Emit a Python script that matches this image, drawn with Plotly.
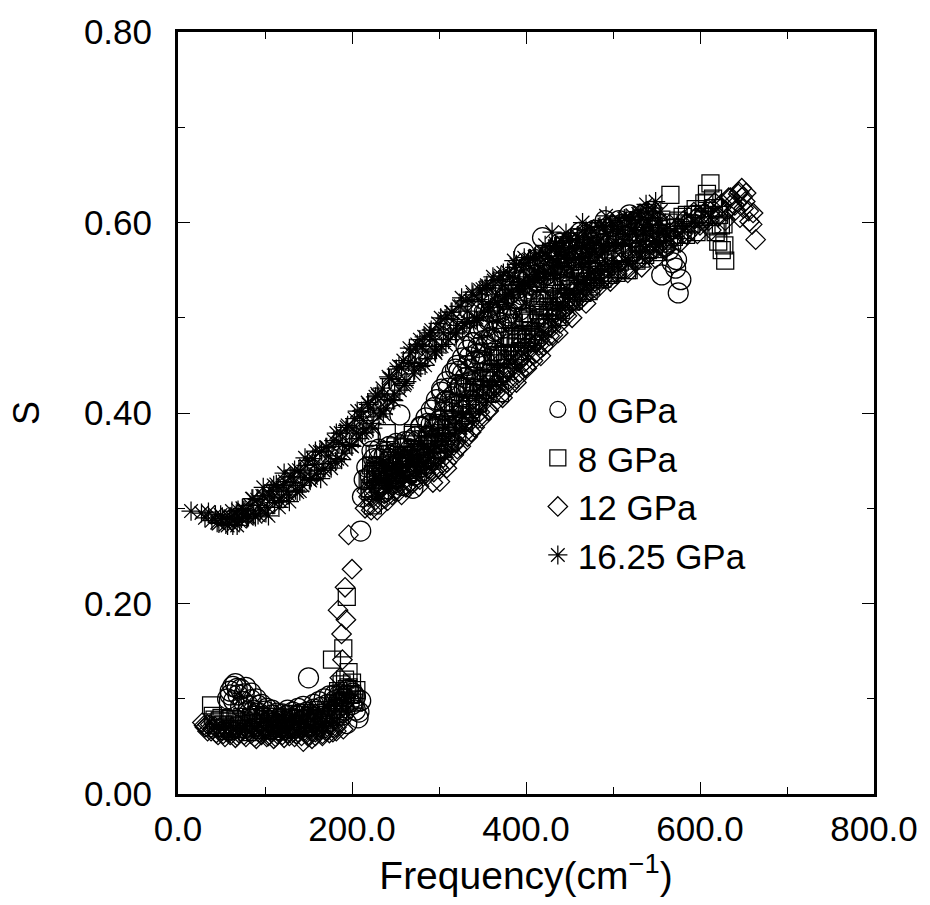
import plotly.graph_objects as go

# ---------------- data ----------------
# Each series is given as interleaved runs of readings (a, b, c).
gpa0_xa = [57, 60, 63, 66, 69, 72, 75, 78, 81, 84, 87, 90, 93, 96, 99, 102, 105, 108, 111, 114,
           117, 120, 123, 126, 129, 132, 135, 138, 141, 144, 147, 150, 153, 156, 159, 162, 165, 168,
           171, 174, 177, 180, 183, 186, 189, 192, 194, 197, 201, 204, 207, 210,
           210, 212, 214, 217, 221,
           225, 228, 231, 234, 237, 240, 243, 246, 249, 252, 255, 258, 261, 264, 267, 270, 273, 276,
           279, 282, 285, 288, 291, 294, 297, 300, 303, 306, 309, 312, 315, 318, 321, 324, 327, 330,
           333, 336, 339, 342, 345, 348, 351, 354, 357, 360, 363, 366, 369, 372, 375, 378, 381, 384,
           387, 390, 393, 396, 398, 402, 406, 410, 414, 419, 422, 426, 430, 434, 438, 442, 446, 450,
           455, 460, 465, 470, 475, 480, 485, 490, 495, 500, 505, 510, 515, 520, 525, 530, 535, 540,
           545, 550, 556, 560, 564, 568, 572, 573, 575, 578]
gpa0_ya = [0.100, 0.108, 0.113, 0.116, 0.104, 0.110, 0.097, 0.112, 0.093, 0.106, 0.088, 0.100, 0.085,
           0.094, 0.080, 0.090, 0.077, 0.088, 0.075, 0.085, 0.073, 0.084, 0.076, 0.088, 0.074, 0.086,
           0.078, 0.090, 0.076, 0.092, 0.080, 0.122, 0.082, 0.094, 0.079, 0.097, 0.084, 0.100, 0.081,
           0.103, 0.086, 0.098, 0.090, 0.105, 0.083, 0.100, 0.074, 0.096, 0.106, 0.088, 0.080, 0.098,
           0.276, 0.312, 0.330, 0.343, 0.375,
           0.352, 0.335, 0.362, 0.340, 0.355, 0.330, 0.365, 0.342, 0.358, 0.336, 0.398, 0.350, 0.370,
           0.345, 0.362, 0.321, 0.375, 0.355, 0.385, 0.366, 0.395, 0.374, 0.403, 0.384, 0.414, 0.392,
           0.425, 0.403, 0.433, 0.412, 0.442, 0.420, 0.450, 0.428, 0.458, 0.437, 0.466, 0.446, 0.474,
           0.455, 0.482, 0.463, 0.490, 0.471, 0.497, 0.480, 0.505, 0.487, 0.512, 0.495, 0.519, 0.502,
           0.525, 0.510, 0.532, 0.517, 0.538, 0.524, 0.568, 0.544, 0.530, 0.550, 0.537, 0.584, 0.545,
           0.565, 0.550, 0.570, 0.555, 0.575, 0.560, 0.579, 0.565, 0.583, 0.569, 0.587, 0.573, 0.590,
           0.577, 0.593, 0.580, 0.596, 0.583, 0.598, 0.586, 0.601, 0.589, 0.603, 0.592, 0.605, 0.595,
           0.600, 0.545, 0.575, 0.571, 0.558, 0.552, 0.561, 0.526, 0.540]
gpa0_xb = [60, 64, 68, 72, 76, 80, 84, 88, 92, 96, 100, 104, 108, 112, 116, 120, 124, 128, 132, 136,
           140, 144, 148, 152, 156, 160, 164, 168, 172, 176, 180, 184, 188, 192, 196, 200, 204, 208,
           223, 227, 231, 235, 239, 243, 247, 251, 255, 259, 263, 267, 271, 275, 279, 283, 287, 291,
           295, 299, 303, 307, 311, 315, 319, 323, 327, 331, 335, 339, 343, 347, 351, 355, 359, 363,
           367, 371, 375, 379, 383, 387, 391, 395, 399, 403, 407, 411, 415, 419, 423, 427, 431, 435,
           439, 443, 447, 451, 455, 459, 463, 467, 471, 475, 479, 483, 487, 491, 495, 499, 503, 507,
           511, 515, 519, 523, 527, 531, 535, 539, 543, 547, 551]
gpa0_yb = [0.104, 0.098, 0.111, 0.092, 0.105, 0.087, 0.099, 0.082, 0.093, 0.076, 0.087, 0.072, 0.083,
           0.070, 0.079, 0.071, 0.082, 0.069, 0.080, 0.072, 0.084, 0.073, 0.086, 0.075, 0.089, 0.077,
           0.091, 0.080, 0.094, 0.082, 0.104, 0.085, 0.097, 0.088, 0.110, 0.094, 0.102, 0.086,
           0.360, 0.344, 0.352, 0.336, 0.359, 0.352, 0.344, 0.368, 0.352, 0.363, 0.348, 0.371, 0.357,
           0.371, 0.386, 0.366, 0.389, 0.388, 0.406, 0.388, 0.422, 0.412, 0.426, 0.417, 0.446, 0.444,
           0.441, 0.470, 0.459, 0.474, 0.462, 0.488, 0.476, 0.491, 0.506, 0.486, 0.508, 0.506, 0.521,
           0.502, 0.533, 0.520, 0.531, 0.519, 0.545, 0.541, 0.535, 0.561, 0.547, 0.559, 0.545, 0.568,
           0.554, 0.566, 0.578, 0.556, 0.575, 0.570, 0.583, 0.561, 0.590, 0.574, 0.583, 0.569, 0.592,
           0.586, 0.578, 0.602, 0.586, 0.596, 0.580, 0.602, 0.586, 0.597, 0.608, 0.584, 0.602, 0.596,
           0.608, 0.585, 0.612, 0.594, 0.599]
gpa0_xc = [221, 225, 229, 233, 237, 241, 245, 249, 253, 257, 261, 265, 269, 273, 277, 281, 285, 289,
           293, 297, 301, 305, 309, 313, 317, 321, 325, 329, 333, 337, 341, 345, 349, 353, 357, 361,
           365, 369, 373, 377, 381, 385, 389, 393, 397, 401, 405, 409, 413, 417, 421, 425, 429, 433,
           437, 441, 445, 449, 453, 457, 461, 465, 469, 473, 477, 481]
gpa0_yc = [0.334, 0.319, 0.343, 0.327, 0.317, 0.341, 0.334, 0.327, 0.346, 0.324, 0.342, 0.354, 0.338,
           0.335, 0.358, 0.357, 0.346, 0.377, 0.372, 0.385, 0.392, 0.383, 0.413, 0.404, 0.400, 0.430,
           0.428, 0.426, 0.450, 0.433, 0.454, 0.469, 0.455, 0.454, 0.478, 0.477, 0.465, 0.495, 0.489,
           0.499, 0.505, 0.493, 0.520, 0.508, 0.501, 0.528, 0.523, 0.518, 0.539, 0.519, 0.538, 0.551,
           0.534, 0.531, 0.552, 0.548, 0.534, 0.561, 0.552, 0.560, 0.563, 0.548, 0.573, 0.559, 0.549,
           0.574]

gpa8_xa = [38, 42, 46, 50, 54, 58, 62, 66, 70, 74, 78, 82, 86, 90, 94, 98, 102, 106, 110, 114, 118,
           122, 126, 130, 134, 138, 142, 146, 150, 154, 158, 162, 166, 170, 174, 178, 181, 184, 186,
           188, 190, 192, 194, 196, 198, 200, 202, 205,
           177, 190, 194,
           218, 221, 224, 227, 230, 233, 236, 240, 243, 246, 249, 252, 256, 260, 264, 268, 270, 273,
           277, 281, 285, 289, 293, 297, 301, 305, 309, 313, 317, 321, 325, 329, 333, 337, 341, 345,
           349, 353, 357, 361, 365, 370, 373, 377, 381, 385, 389, 393, 397, 401, 405, 410, 415, 420,
           425, 430, 435, 440, 446, 450, 455, 460, 465, 470, 475, 480, 485, 490, 495, 500, 505, 510,
           518, 522, 527, 532, 537, 542, 547, 552, 557, 562, 566, 570, 575, 580, 585, 590, 595, 600,
           605, 608, 612, 615, 618, 621, 625, 629, 622, 627]
gpa8_ya = [0.093, 0.078, 0.072, 0.080, 0.070, 0.076, 0.068, 0.078, 0.071, 0.081, 0.069, 0.077, 0.072,
           0.083, 0.070, 0.079, 0.067, 0.076, 0.071, 0.081, 0.069, 0.078, 0.073, 0.084, 0.070, 0.079,
           0.074, 0.085, 0.071, 0.080, 0.075, 0.088, 0.073, 0.083, 0.078, 0.092, 0.084, 0.108, 0.096,
           0.115, 0.101, 0.120, 0.110, 0.128, 0.104, 0.117, 0.096, 0.109,
           0.141, 0.153, 0.207,
           0.330, 0.318, 0.303, 0.338, 0.325, 0.345, 0.330, 0.379, 0.335, 0.350, 0.332, 0.348, 0.340,
           0.355, 0.338, 0.352, 0.379, 0.342, 0.358, 0.346, 0.362, 0.350, 0.368, 0.356, 0.375, 0.362,
           0.384, 0.370, 0.394, 0.380, 0.404, 0.390, 0.414, 0.400, 0.424, 0.410, 0.434, 0.420, 0.443,
           0.430, 0.452, 0.421, 0.460, 0.447, 0.470, 0.456, 0.478, 0.465, 0.487, 0.474, 0.495, 0.482,
           0.503, 0.490, 0.512, 0.499, 0.520, 0.508, 0.522, 0.530, 0.518, 0.538, 0.526, 0.545, 0.533,
           0.551, 0.540, 0.557, 0.545, 0.562, 0.551, 0.567, 0.550, 0.572, 0.560, 0.578, 0.566, 0.583,
           0.572, 0.588, 0.578, 0.595, 0.629, 0.585, 0.602, 0.592, 0.608, 0.598, 0.614, 0.604, 0.620,
           0.630, 0.641, 0.625, 0.590, 0.580, 0.571, 0.560, 0.608, 0.598]
gpa8_xb = [40, 44, 48, 52, 56, 60, 64, 68, 72, 76, 80, 84, 88, 92, 96, 100, 104, 108, 112, 116, 120,
           124, 128, 132, 136, 140, 144, 148, 152, 156, 160, 164, 168, 172, 176, 180, 184, 188, 192,
           196, 200, 204,
           220, 224, 228, 232, 236, 240, 244, 248, 252, 256, 260, 264, 268, 272, 276, 280, 284, 288,
           292, 296, 300, 304, 308, 312, 316, 320, 324, 328, 332, 336, 340, 344, 348, 352, 356, 360,
           364, 368, 372, 376, 380, 384, 388, 392, 396, 400, 404, 408, 412, 416, 420, 424, 428, 432,
           436, 440, 444, 448, 452, 456, 460, 464, 468, 472, 476, 480, 484, 488, 492, 496, 500, 504,
           508, 512, 516, 520, 524, 528, 532, 536, 540, 544, 548, 552, 556, 560, 564, 568, 572, 576,
           580, 584, 588, 592, 596, 600, 604, 608, 612, 616, 620, 624, 628]
gpa8_yb = [0.082, 0.069, 0.077, 0.073, 0.066, 0.079, 0.072, 0.068, 0.076, 0.074, 0.065, 0.080, 0.070,
           0.075, 0.067, 0.081, 0.073, 0.069, 0.078, 0.066, 0.074, 0.080, 0.068, 0.076, 0.072, 0.083,
           0.069, 0.078, 0.082, 0.070, 0.079, 0.085, 0.075, 0.088, 0.081, 0.095, 0.089, 0.104, 0.097,
           0.112, 0.105, 0.099,
           0.321, 0.336, 0.330, 0.319, 0.339, 0.333, 0.350, 0.331, 0.344, 0.337, 0.356, 0.336, 0.348,
           0.356, 0.338, 0.356, 0.353, 0.367, 0.350, 0.367, 0.361, 0.379, 0.376, 0.368, 0.391, 0.388,
           0.408, 0.392, 0.408, 0.404, 0.426, 0.410, 0.424, 0.436, 0.420, 0.442, 0.441, 0.457, 0.442,
           0.461, 0.456, 0.473, 0.469, 0.460, 0.482, 0.478, 0.497, 0.480, 0.495, 0.490, 0.511, 0.494,
           0.507, 0.518, 0.501, 0.522, 0.520, 0.534, 0.517, 0.534, 0.528, 0.544, 0.538, 0.528, 0.548,
           0.543, 0.560, 0.541, 0.554, 0.547, 0.566, 0.547, 0.559, 0.568, 0.550, 0.569, 0.566, 0.579,
           0.562, 0.578, 0.571, 0.586, 0.580, 0.569, 0.589, 0.583, 0.600, 0.581, 0.594, 0.587, 0.606,
           0.587, 0.599, 0.608, 0.590, 0.609, 0.606, 0.621, 0.606, 0.615, 0.596, 0.597, 0.576]
gpa8_xc = [222, 226, 230, 234, 238, 242, 246, 250, 254, 258, 262, 266, 270, 274, 278, 282, 286, 290,
           294, 298, 302, 306, 310, 314, 318, 322, 326, 330, 334, 338, 342, 346, 350, 354, 358, 362,
           366, 370, 374, 378, 382, 386, 390, 394, 398, 402, 406, 410, 414, 418, 422, 426, 430, 434,
           438, 442, 446, 450, 454, 458, 462, 466, 470, 474, 478, 482]
gpa8_yc = [0.345, 0.357, 0.340, 0.336, 0.357, 0.353, 0.338, 0.365, 0.356, 0.364, 0.367, 0.352, 0.377,
           0.362, 0.353, 0.377, 0.372, 0.366, 0.387, 0.367, 0.387, 0.402, 0.388, 0.387, 0.411, 0.410,
           0.398, 0.428, 0.422, 0.433, 0.439, 0.427, 0.455, 0.443, 0.437, 0.464, 0.461, 0.457, 0.480,
           0.461, 0.481, 0.495, 0.480, 0.478, 0.501, 0.499, 0.486, 0.515, 0.508, 0.518, 0.523, 0.511,
           0.537, 0.525, 0.517, 0.544, 0.539, 0.533, 0.554, 0.534, 0.553, 0.565, 0.549, 0.545, 0.567,
           0.563]

gpa12_xa = [28, 31, 34, 37, 40, 44, 48, 52, 56, 60, 64, 68, 72, 76, 80, 84, 88, 92, 96, 100, 104,
            108, 112, 116, 120, 124, 128, 132, 136, 140, 144, 148, 150, 154, 158, 162, 166, 170, 174,
            178, 182, 186, 190,
            184, 193, 188, 189, 192, 200, 196, 186, 191,
            215, 219, 222, 226, 230, 234, 238, 242, 246, 250, 254, 258, 262, 266, 270, 274, 278, 282,
            286, 290, 294, 298, 301, 305, 309, 313, 317, 321, 325, 329, 333, 337, 341, 345, 349, 353,
            357, 361, 365, 369, 373, 377, 381, 385, 389, 392, 396, 400, 404, 408, 412, 416, 420, 424,
            427, 431, 435, 439, 443, 447, 450, 454, 458, 462, 466, 470, 474, 478, 482, 486, 492, 496,
            500, 505, 510, 515, 518, 522, 526, 530, 534, 538, 542, 546, 550, 555, 560, 565, 570, 575,
            580, 585, 590, 595, 600, 605, 610, 615, 620, 625, 630, 635, 640, 644, 648, 652, 656, 660,
            664, 646, 650]
gpa12_ya = [0.075, 0.070, 0.066, 0.073, 0.068, 0.064, 0.070, 0.063, 0.068, 0.062, 0.067, 0.061, 0.066,
            0.062, 0.068, 0.063, 0.060, 0.066, 0.062, 0.067, 0.061, 0.065, 0.060, 0.066, 0.062, 0.067,
            0.061, 0.065, 0.063, 0.068, 0.055, 0.064, 0.060, 0.066, 0.061, 0.067, 0.063, 0.069, 0.064,
            0.070, 0.066, 0.075, 0.068,
            0.193, 0.183, 0.168, 0.141, 0.217, 0.236, 0.272, 0.122, 0.105,
            0.300, 0.312, 0.298, 0.318, 0.305, 0.322, 0.310, 0.326, 0.314, 0.330, 0.318, 0.334, 0.322,
            0.338, 0.326, 0.342, 0.330, 0.346, 0.334, 0.350, 0.338, 0.354, 0.328, 0.360, 0.348, 0.368,
            0.356, 0.378, 0.365, 0.388, 0.375, 0.398, 0.385, 0.408, 0.394, 0.418, 0.403, 0.426, 0.412,
            0.434, 0.420, 0.442, 0.428, 0.450, 0.436, 0.442, 0.458, 0.448, 0.466, 0.455, 0.463, 0.477,
            0.470, 0.488, 0.490, 0.482, 0.500, 0.494, 0.508, 0.502, 0.513, 0.520, 0.522, 0.528, 0.522,
            0.535, 0.528, 0.541, 0.535, 0.547, 0.548, 0.542, 0.555, 0.549, 0.560, 0.552, 0.552, 0.565,
            0.558, 0.570, 0.563, 0.575, 0.568, 0.580, 0.573, 0.585, 0.578, 0.590, 0.583, 0.595, 0.588,
            0.600, 0.592, 0.605, 0.597, 0.610, 0.602, 0.614, 0.607, 0.620, 0.612, 0.626, 0.618, 0.630,
            0.636, 0.622, 0.612, 0.598, 0.582, 0.605, 0.615]
gpa12_xb = [30, 34, 38, 42, 46, 50, 54, 58, 62, 66, 70, 74, 78, 82, 86, 90, 94, 98, 102, 106, 110,
            114, 118, 122, 126, 130, 134, 138, 142, 146, 150, 154, 158, 162, 166, 170, 174, 178, 182,
            186,
            217, 221, 225, 229, 233, 237, 241, 245, 249, 253, 257, 261, 265, 269, 273, 277, 281, 285,
            289, 293, 297, 301, 305, 309, 313, 317, 321, 325, 329, 333, 337, 341, 345, 349, 353, 357,
            361, 365, 369, 373, 377, 381, 385, 389, 393, 397, 401, 405, 409, 413, 417, 421, 425, 429,
            433, 437, 441, 445, 449, 453, 457, 461, 465, 469, 473, 477, 481, 485, 489, 493, 497, 501,
            505, 509, 513, 517, 521, 525, 529, 533, 537, 541, 545, 549, 553, 557, 561, 565, 569, 573,
            577, 581, 585, 589, 593, 597, 601, 605, 609, 613, 617, 621, 625, 629, 633, 637, 641, 645,
            649, 653, 657, 661]
gpa12_yb = [0.072, 0.073, 0.066, 0.071, 0.062, 0.067, 0.060, 0.065, 0.070, 0.059, 0.064, 0.068, 0.060,
            0.066, 0.070, 0.058, 0.064, 0.069, 0.060, 0.066, 0.058, 0.063, 0.068, 0.059, 0.064, 0.070,
            0.060, 0.065, 0.061, 0.067, 0.062, 0.058, 0.065, 0.070, 0.061, 0.066, 0.072, 0.065, 0.070,
            0.080,
            0.318, 0.303, 0.312, 0.298, 0.321, 0.315, 0.308, 0.333, 0.318, 0.329, 0.314, 0.337, 0.322,
            0.334, 0.346, 0.323, 0.342, 0.337, 0.350, 0.327, 0.356, 0.341, 0.353, 0.342, 0.370, 0.366,
            0.362, 0.390, 0.378, 0.392, 0.380, 0.406, 0.394, 0.409, 0.423, 0.402, 0.424, 0.421, 0.436,
            0.416, 0.446, 0.433, 0.444, 0.432, 0.457, 0.452, 0.447, 0.474, 0.461, 0.474, 0.460, 0.486,
            0.474, 0.489, 0.504, 0.484, 0.506, 0.504, 0.520, 0.500, 0.532, 0.518, 0.528, 0.515, 0.541,
            0.536, 0.530, 0.555, 0.541, 0.552, 0.538, 0.561, 0.546, 0.558, 0.570, 0.547, 0.566, 0.561,
            0.574, 0.553, 0.582, 0.567, 0.576, 0.562, 0.586, 0.580, 0.573, 0.598, 0.583, 0.594, 0.579,
            0.602, 0.587, 0.599, 0.611, 0.588, 0.606, 0.601, 0.614, 0.592, 0.621, 0.606, 0.616, 0.602,
            0.626, 0.620, 0.613, 0.632, 0.627, 0.631, 0.601, 0.610]
gpa12_xc = [223, 227, 231, 235, 239, 243, 247, 251, 255, 259, 263, 267, 271, 275, 279, 283, 287, 291,
            295, 299, 303, 307, 311, 315, 319, 323, 327, 331, 335, 339, 343, 347, 351, 355, 359, 363,
            367, 371, 375, 379, 383, 387, 391, 395, 399, 403, 407, 411, 415, 419, 423, 427, 431, 435,
            439, 443, 447, 451, 455, 459, 463, 467, 471, 475, 479, 483]
gpa12_yc = [0.330, 0.324, 0.318, 0.337, 0.316, 0.334, 0.346, 0.329, 0.325, 0.346, 0.342, 0.327, 0.354,
            0.345, 0.353, 0.356, 0.342, 0.367, 0.352, 0.343, 0.369, 0.367, 0.364, 0.387, 0.369, 0.390,
            0.405, 0.391, 0.390, 0.414, 0.413, 0.401, 0.430, 0.423, 0.434, 0.439, 0.427, 0.454, 0.442,
            0.434, 0.461, 0.457, 0.453, 0.474, 0.454, 0.474, 0.488, 0.473, 0.471, 0.494, 0.493, 0.481,
            0.511, 0.505, 0.516, 0.522, 0.511, 0.538, 0.527, 0.520, 0.546, 0.541, 0.536, 0.558, 0.538,
            0.556]

gpa16_xa = [15, 27, 31, 35, 39, 43, 47, 51, 55, 59, 63, 67, 71, 75, 79, 83, 87, 91, 95, 99, 103, 107,
            111, 115, 119, 123, 127, 131, 135, 139, 143, 147, 151, 155, 159, 163, 167, 171, 175, 179,
            183, 187, 191, 195, 199, 203, 207, 211, 215, 219, 223, 227, 231, 235, 239, 243, 247, 251,
            255, 259, 263, 267, 271, 275, 279, 283, 287, 291, 295, 299, 303, 307, 311, 315, 319, 323,
            327, 331, 335, 339, 343, 347, 351, 355, 359, 363, 367, 371, 375, 379, 383, 387, 391, 395,
            399, 403, 407, 411, 415, 419, 423, 427, 431, 435, 439, 443, 447, 451, 455, 459, 463, 467,
            471, 475, 479, 483, 487, 491, 495, 499, 503, 507, 511, 515, 519, 523, 527, 531, 535, 539,
            543, 547, 551, 555,
            430, 465, 492, 538, 355]
gpa16_ya = [0.297, 0.295, 0.290, 0.296, 0.287, 0.293, 0.284, 0.291, 0.283, 0.290, 0.282, 0.294, 0.286,
            0.298, 0.289, 0.303, 0.294, 0.309, 0.298, 0.313, 0.301, 0.318, 0.306, 0.322, 0.311, 0.328,
            0.314, 0.333, 0.319, 0.340, 0.324, 0.345, 0.330, 0.352, 0.336, 0.359, 0.340, 0.364, 0.347,
            0.371, 0.352, 0.379, 0.358, 0.387, 0.366, 0.394, 0.373, 0.402, 0.380, 0.409, 0.389, 0.417,
            0.396, 0.426, 0.405, 0.436, 0.414, 0.446, 0.424, 0.455, 0.433, 0.463, 0.441, 0.472, 0.449,
            0.480, 0.457, 0.487, 0.465, 0.494, 0.470, 0.499, 0.477, 0.506, 0.483, 0.512, 0.489, 0.518,
            0.495, 0.524, 0.500, 0.529, 0.506, 0.534, 0.511, 0.539, 0.516, 0.544, 0.521, 0.548, 0.526,
            0.553, 0.531, 0.557, 0.535, 0.561, 0.539, 0.565, 0.543, 0.569, 0.547, 0.572, 0.551, 0.576,
            0.555, 0.579, 0.558, 0.583, 0.561, 0.586, 0.564, 0.589, 0.567, 0.592, 0.570, 0.595, 0.573,
            0.597, 0.576, 0.600, 0.579, 0.602, 0.582, 0.605, 0.585, 0.607, 0.588, 0.610, 0.591, 0.612,
            0.594, 0.615, 0.598, 0.612,
            0.590, 0.600, 0.607, 0.619, 0.532]
gpa16_xb = [45, 49, 53, 57, 61, 65, 69, 73, 77, 81, 85, 89, 93, 97, 101, 105, 109, 113, 117, 121,
            125, 129, 133, 137, 141, 145, 149, 153, 157, 161, 165, 169, 173, 177, 181, 185, 189, 193,
            197, 201, 205, 209, 213, 217, 221, 225, 229, 233, 237, 241, 245, 249, 253, 257, 261, 265,
            269, 273, 277, 281, 285, 289, 293, 297, 301, 305, 309, 313, 317, 321, 325, 329, 333, 337,
            341, 345, 349, 353, 357, 361, 365, 369, 373, 377, 381, 385, 389, 393, 397, 401, 405, 409,
            413, 417, 421, 425, 429, 433, 437, 441, 445, 449, 453, 457, 461, 465, 469, 473, 477, 481,
            485, 489, 493, 497, 501, 505, 509, 513, 517, 521, 525, 529, 533, 537, 541, 545, 549, 553]
gpa16_yb = [0.285, 0.293, 0.289, 0.282, 0.291, 0.288, 0.298, 0.289, 0.298, 0.291, 0.310, 0.291, 0.303,
            0.313, 0.295, 0.314, 0.311, 0.325, 0.308, 0.324, 0.318, 0.333, 0.327, 0.317, 0.338, 0.332,
            0.350, 0.332, 0.346, 0.340, 0.360, 0.342, 0.355, 0.365, 0.349, 0.369, 0.367, 0.382, 0.367,
            0.384, 0.379, 0.396, 0.392, 0.383, 0.405, 0.401, 0.420, 0.403, 0.419, 0.414, 0.436, 0.420,
            0.435, 0.447, 0.431, 0.453, 0.452, 0.467, 0.452, 0.470, 0.465, 0.481, 0.477, 0.467, 0.488,
            0.484, 0.502, 0.484, 0.498, 0.492, 0.512, 0.494, 0.507, 0.517, 0.500, 0.519, 0.517, 0.531,
            0.514, 0.531, 0.524, 0.540, 0.534, 0.524, 0.544, 0.538, 0.556, 0.537, 0.550, 0.543, 0.562,
            0.543, 0.555, 0.564, 0.546, 0.565, 0.562, 0.575, 0.558, 0.573, 0.566, 0.581, 0.574, 0.563,
            0.582, 0.576, 0.592, 0.573, 0.585, 0.578, 0.596, 0.576, 0.588, 0.596, 0.578, 0.596, 0.592,
            0.604, 0.587, 0.602, 0.595, 0.609, 0.603, 0.592, 0.611, 0.605, 0.622, 0.602]
gpa16_xc = [62, 68, 74, 80, 86, 92, 98, 104, 110, 116, 122, 128, 134, 140, 146, 152, 158, 164, 170,
            176, 182, 188, 194, 200, 206, 212, 218, 224, 230, 236, 242, 248, 254, 260, 266, 272, 278,
            284, 290, 296, 302, 308, 314, 320, 326, 332, 338, 344, 350, 356, 362, 368, 374, 380, 386,
            392, 398, 404, 410, 416, 422, 428, 434, 440, 446]
gpa16_yc = [0.297, 0.282, 0.300, 0.290, 0.310, 0.293, 0.322, 0.292, 0.324, 0.301, 0.337, 0.307, 0.340,
            0.318, 0.353, 0.329, 0.360, 0.331, 0.364, 0.342, 0.379, 0.351, 0.385, 0.365, 0.402, 0.379,
            0.411, 0.384, 0.418, 0.399, 0.438, 0.413, 0.449, 0.429, 0.468, 0.445, 0.477, 0.450, 0.484,
            0.463, 0.500, 0.472, 0.506, 0.484, 0.521, 0.496, 0.527, 0.497, 0.530, 0.507, 0.543, 0.514,
            0.547, 0.524, 0.560, 0.534, 0.563, 0.533, 0.564, 0.541, 0.576, 0.546, 0.578, 0.554, 0.589]

series_names = ["0 GPa", "8 GPa", "12 GPa", "16.25 GPa"]
x_ticks = [0, 200, 400, 600, 800]
y_ticks = [0.0, 0.2, 0.4, 0.6, 0.8]

# ---------------- figure ----------------
FONT = "Liberation Sans, Arial, Helvetica, sans-serif"
series = [
    (gpa0_xa + gpa0_xb + gpa0_xc, gpa0_ya + gpa0_yb + gpa0_yc, "circle-open", 20),
    (gpa8_xa + gpa8_xb + gpa8_xc, gpa8_ya + gpa8_yb + gpa8_yc, "square-open", 17),
    (gpa12_xa + gpa12_xb + gpa12_xc, gpa12_ya + gpa12_yb + gpa12_yc, "diamond-open", 15),
    (gpa16_xa + gpa16_xb + gpa16_xc, gpa16_ya + gpa16_yb + gpa16_yc, "asterisk-open", 16),
]

fig = go.Figure()
for (xs, ys, sym, sz), name in zip(series, series_names):
    fig.add_trace(go.Scatter(
        x=xs, y=ys, mode="markers", name=name,
        marker=dict(symbol=sym, size=sz, color="black",
                    line=dict(width=1.25, color="black")),
    ))

axis_common = dict(
    showline=True, linecolor="black", linewidth=3, mirror="allticks",
    ticks="inside", ticklen=12, tickwidth=1.2, tickcolor="black",
    showgrid=False, zeroline=False,
    tickfont=dict(family=FONT, size=35, color="black"),
    minor=dict(ticks="inside", ticklen=7, tickwidth=1.2, tickcolor="black", showgrid=False),
)

fig.update_xaxes(
    range=[0, 800], tickvals=x_ticks, tickformat=".1f",
    minor_dtick=100, ticklabelstandoff=2,
    title=dict(text="Frequency(cm<sup>−1</sup>)", font=dict(family=FONT, size=39, color="black"),
               standoff=0),
    **axis_common,
)
fig.update_yaxes(
    range=[0, 0.8], tickvals=y_ticks, tickformat=".2f",
    minor_dtick=0.1, ticklabelstandoff=16,
    title=dict(text="S", font=dict(family=FONT, size=36, color="black"), standoff=34),
    **axis_common,
)

fig.update_layout(
    width=930, height=905,
    margin=dict(l=178, r=54, t=32, b=111),
    paper_bgcolor="white", plot_bgcolor="white",
    showlegend=True,
    legend=dict(
        x=0.517, y=0.543, xanchor="left", yanchor="top",
        bgcolor="rgba(0,0,0,0)", borderwidth=0,
        font=dict(family=FONT, size=35, color="black"),
        itemsizing="trace", tracegroupgap=0,
    ),
    font=dict(family=FONT, color="black"),
)

fig.write_html("out.html")
